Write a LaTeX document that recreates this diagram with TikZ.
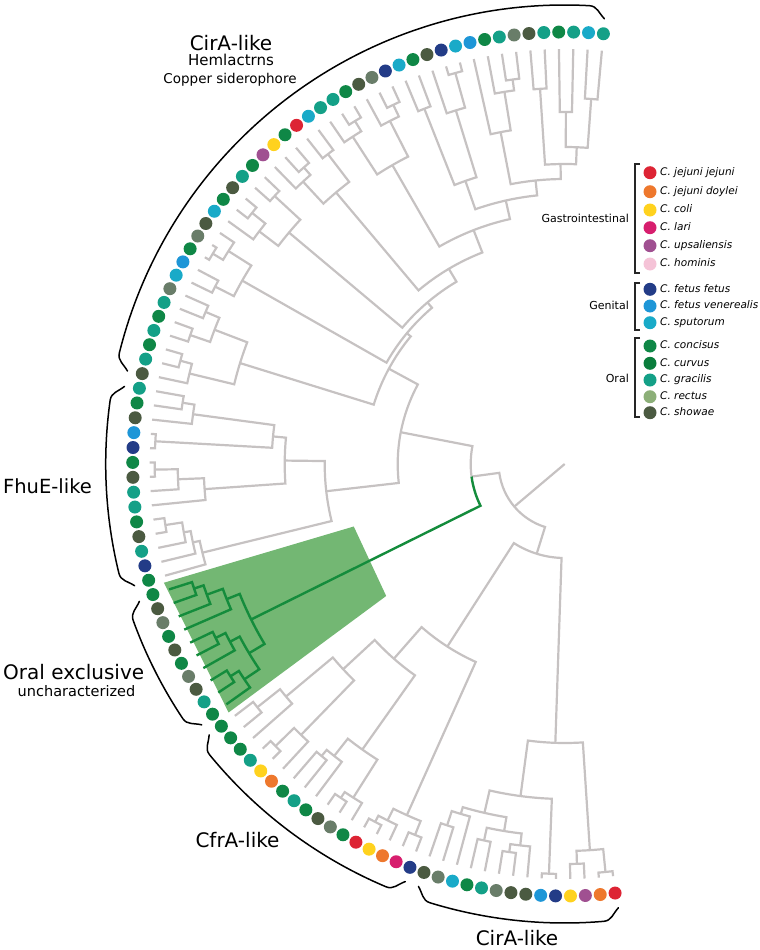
\documentclass[tikz,border=0pt]{standalone}
\usepackage{fontspec}
\setmainfont{DejaVu Sans}

\definecolor{cR}{RGB}{221,36,52}
\definecolor{cO}{RGB}{238,120,45}
\definecolor{cL}{RGB}{255,210,30}
\definecolor{cM}{RGB}{215,30,110}
\definecolor{cP}{RGB}{160,80,145}
\definecolor{cH}{RGB}{245,195,215}
\definecolor{cN}{RGB}{35,60,135}
\definecolor{cB}{RGB}{30,150,215}
\definecolor{cS}{RGB}{25,170,200}
\definecolor{cG}{RGB}{15,135,70}
\definecolor{cV}{RGB}{10,125,60}
\definecolor{cT}{RGB}{20,160,135}
\definecolor{cE}{RGB}{140,175,120}
\definecolor{cD}{RGB}{75,90,65}
\definecolor{cY}{RGB}{105,125,105}
\definecolor{treegrey}{RGB}{198,194,194}
\definecolor{cladegreen}{RGB}{20,140,60}
\definecolor{fangreen}{RGB}{115,183,115}

% angle of leaf position #1 round the circle
\newcommand\leafang[1]{84.86+1.9777*(#1-1)}
% one node: radius #2, children at positions #3 and #5 with radii #4 and #6
\newcommand\clade[6][branch]{%
  \draw[#1] ({\leafang{#3}}:#4pt) -- ({\leafang{#3}}:#2pt)
    arc[start angle={\leafang{#3}}, end angle={\leafang{#5}}, radius=#2pt]
    -- ({\leafang{#5}}:#6pt);}
% curly bracket round the leaves, from angle #1 to angle #2
\newcommand\bracearc[2]{%
  \pgfmathsetmacro\braceA{#1+2}\pgfmathsetmacro\braceB{#2-2}%
  \pgfmathsetmacro\braceOA{#1+50}\pgfmathsetmacro\braceIA{#1+2-90}%
  \pgfmathsetmacro\braceOB{#2-2+90}\pgfmathsetmacro\braceIB{#2-50}%
  \draw[bracket] (#1:447pt) to[out=\braceOA,in=\braceIA] (\braceA:459pt)
    arc[start angle=\braceA, end angle=\braceB, radius=459pt]
    to[out=\braceOB,in=\braceIB] (#2:447pt);}

\begin{document}
\begin{tikzpicture}[x=1pt, y=-1pt,
    branch/.style={draw=treegrey, line width=2.2pt},
    greenbranch/.style={draw=cladegreen, line width=2.4pt},
    leafdot/.style={circle, inner sep=0pt, minimum size=13pt},
    bracket/.style={draw=black, line width=1.5pt, line cap=round},
    legbracket/.style={draw=black!85, line width=1.5pt},
    biglabel/.style={inner sep=0pt, anchor=base, font=\fontsize{20}{24}\selectfont},
    species/.style={anchor=mid west, inner sep=0pt, font=\fontsize{10.5}{12}\selectfont\itshape},
    group/.style={anchor=mid east, inner sep=0pt, font=\fontsize{11}{13}\selectfont}]

    \useasboundingbox (0,0) rectangle (760,950);
    \coordinate (centre) at (564.7,464);

    \begin{scope}[shift={(centre)}, x=1pt, y=1pt]
        % highlighted oral clade
        \fill[fangreen] ({\leafang{57.45}}:220pt) -- ({\leafang{67.55}}:222pt)
            -- ({\leafang{67.55}}:418pt) -- ({\leafang{57.45}}:418pt) -- cycle;

        % root
        \draw[branch] (0,0) -- ({\leafang{69.43}}:66pt);
        \clade{66}{53.0}{94}{85.85}{94}
        \draw[branch] ({\leafang{43.56}}:167pt) -- ({\leafang{43.56}}:94pt)
            arc[start angle={\leafang{43.56}}, end angle={\leafang{53.0}}, radius=94pt];

        % lower half
        \clade{94}{78.06}{217}{93.64}{279}
        \clade{217}{73.75}{259}{82.375}{385}
        \clade{259}{70.75}{302}{76.75}{350}
        \clade{302}{69.25}{363}{72.25}{378}
        \clade{363}{68.5}{392}{70}{415}
        \clade{392}{68}{415}{69}{415}
        \clade{378}{71.5}{404}{73}{415}
        \clade{404}{71}{415}{72}{415}
        \clade{350}{75.25}{372}{78.25}{395}
        \clade{372}{74.5}{380}{76}{415}
        \clade{380}{74}{415}{75}{415}
        \clade{395}{77.5}{402}{79}{415}
        \clade{402}{77}{415}{78}{415}
        \clade{385}{81.25}{398}{83.5}{400}
        \clade{398}{80.5}{405}{82}{415}
        \clade{405}{80}{415}{81}{415}
        \clade{400}{83}{415}{84}{415}
        \clade{279}{90.78}{335}{96.5}{387}
        \clade{335}{88.06}{358}{93.5}{410}
        \clade{410}{93}{415}{94}{415}
        \clade{358}{86.25}{365}{89.875}{372}
        \clade{365}{85.5}{380}{87}{415}
        \clade{380}{85}{415}{86}{415}
        \clade{372}{88.5}{385}{91.25}{384}
        \clade{385}{88}{415}{89}{415}
        \clade{384}{90.5}{392}{92}{415}
        \clade{392}{90}{415}{91}{415}
        \clade{387}{95.5}{400}{97.5}{410}
        \clade{400}{95}{415}{96}{415}
        \clade{410}{97}{415}{98}{415}

        % upper half
        \clade{167}{34.72}{200}{52.4}{240}
        \clade{240}{48.75}{280}{56.06}{373}
        \clade{280}{46.375}{293}{51.125}{361}
        \clade{293}{45.25}{375}{47.5}{410}
        \clade{375}{44.5}{387}{46}{415}
        \clade{387}{44}{415}{45}{415}
        \clade{410}{47}{415}{48}{415}
        \clade{361}{50.25}{387}{52}{415}
        \clade{387}{49.5}{410}{51}{415}
        \clade{410}{49}{415}{50}{415}
        \clade{373}{55.125}{380}{57}{415}
        \clade{380}{54.25}{387}{56}{415}
        \clade{387}{53.5}{404}{55}{415}
        \clade{404}{53}{415}{54}{415}
        \clade{200}{29.06}{205}{40.375}{340}
        \clade{340}{38.5}{375}{42.25}{386}
        \clade{375}{37.5}{390}{39.5}{396}
        \clade{390}{37}{415}{38}{415}
        \clade{396}{39}{415}{40}{415}
        \clade{386}{41.5}{398}{43}{415}
        \clade{398}{41}{415}{42}{415}
        \clade{205}{24.0}{212}{34.125}{371}
        \clade{371}{32.75}{398}{35.5}{392}
        \clade{398}{32}{415}{33.5}{410}
        \clade{410}{33}{415}{34}{415}
        \clade{392}{35}{415}{36}{415}
        \clade{212}{19.12}{227}{28.875}{360}
        \clade{360}{27.5}{395}{30.25}{384}
        \clade{395}{27}{415}{28}{415}
        \clade{384}{29.5}{401}{31}{415}
        \clade{401}{29}{415}{30}{415}
        \clade{227}{14.36}{251}{23.875}{355}
        \clade{355}{22.5}{390}{25.25}{385}
        \clade{390}{22}{415}{23}{415}
        \clade{385}{24.5}{395}{26}{415}
        \clade{395}{24}{415}{25}{415}
        \clade{251}{9.97}{270}{18.75}{345}
        \clade{345}{17.25}{385}{20.25}{390}
        \clade{385}{16.5}{398}{18}{415}
        \clade{398}{16}{415}{17}{415}
        \clade{390}{19.5}{402}{21}{415}
        \clade{402}{19}{415}{20}{415}
        \clade{270}{6.5625}{285}{13.375}{300}
        \clade{285}{4.0}{300}{9.125}{338}
        \clade{300}{2.5}{317}{5.5}{376}
        \clade{317}{1.5}{366}{3.5}{352}
        \clade{366}{1}{415}{2}{415}
        \clade{352}{3}{415}{4}{415}
        \clade{376}{5}{415}{6}{415}
        \clade{338}{8.25}{377}{10}{415}
        \clade{377}{7.5}{388}{9}{415}
        \clade{388}{7}{415}{8}{415}
        \clade{300}{12.25}{370}{14.5}{382}
        \clade{370}{11.5}{406}{13}{415}
        \clade{406}{11}{415}{12}{415}
        \clade{382}{14}{415}{15}{415}

        % oral exclusive clade and its path
        \draw[greenbranch] ({\leafang{53.0}}:94pt)
            arc[start angle={\leafang{53.0}}, end angle={\leafang{62.44}}, radius=94pt]
            -- ({\leafang{62.44}}:350pt);
        \clade[greenbranch]{350}{60.125}{364}{64.75}{368}
        \clade[greenbranch]{364}{59.25}{381}{61}{415}
        \clade[greenbranch]{381}{58.5}{391}{60}{415}
        \clade[greenbranch]{391}{58}{415}{59}{415}
        \clade[greenbranch]{368}{63.25}{379}{66.25}{386}
        \clade[greenbranch]{379}{62.5}{390}{64}{415}
        \clade[greenbranch]{390}{62}{415}{63}{415}
        \clade[greenbranch]{386}{65.5}{396}{67}{415}
        \clade[greenbranch]{396}{65}{415}{66}{415}

        % leaf dots
        \foreach \c [count=\i] in {T,S,T,G,T,D,Y,T,G,B, S,N,D,G,S,N,Y,D,G,T,
                                   T,S,R,G,L,P,G,T,D,G, S,D,Y,G,B,S,Y,T,G,T,
                                   G,T,D,T,G,D,B,N,G,D, T,T,G,D,T,N,G,G,D,Y,
                                   G,D,G,Y,D,T,G,G,G,G, T,L,O,G,T,G,D,Y,G,R,
                                   L,O,M,N,D,Y,S,G,T,Y, D,D,B,N,L,P,O,R}
            \node[leafdot, fill=c\c] (d\i) at ({\leafang{\i}}:432pt) {};

        % brackets
        \bracearc{84.9}{168.0}
        \bracearc{170.0}{195.8}
        \bracearc{197.9}{215.7}
        \bracearc{217.3}{249.1}
        \bracearc{250.9}{276.9}
    \end{scope}

    % clade labels
    \node[biglabel] (cirtop) at (231,51) {CirA-like};
    \node[biglabel, font=\fontsize{15}{17}\selectfont] (hem) at (231,66) {Hemlactrns};
    \node[biglabel, font=\fontsize{13.5}{16}\selectfont] (copper) at (230,84) {Copper siderophore};
    \node[biglabel, font=\fontsize{19.5}{24}\selectfont] (fhue) at (47.5,493) {FhuE-like};
    \node[biglabel, anchor=base west] (oral) at (3,679) {Oral exclusive};
    \node[biglabel, font=\fontsize{14.5}{16}\selectfont] (unchar) at (76.5,696) {uncharacterized};
    \node[biglabel] (cfra) at (237.5,847) {CfrA-like};
    \node[biglabel] (cirbot) at (517,945) {CirA-like};

    % legend
    \foreach \col/\name/\yy [count=\k] in {cR/jejuni jejuni/172.7, cO/jejuni doylei/191.7,
            cL/coli/210, cM/lari/227.7, cP/upsaliensis/245.7, cH/hominis/264,
            cN/fetus fetus/289.3, cB/fetus venerealis/306, cS/sputorum/322.7,
            cG/concisus/346, cV/curvus/363.3, cT/gracilis/380, cE/rectus/396.7, cD/showae/412.7} {
        \node[leafdot, fill=\col] (lg\k) at (650,\yy) {};
        \node[species] (ln\k) at (660,\yy) {C. \name};
    }
    \draw[legbracket] (640,164) -- (635,164) -- (635,273) -- (640,273);
    \draw[legbracket] (640,283) -- (635,283) -- (635,330) -- (640,330);
    \draw[legbracket] (640,338) -- (635,338) -- (635,417) -- (640,417);
    \node[group] (gastro) at (629,220) {Gastrointestinal};
    \node[group] (genital) at (629,307) {Genital};
    \node[group] (orallg) at (629,380) {Oral};
\end{tikzpicture}
\end{document}
